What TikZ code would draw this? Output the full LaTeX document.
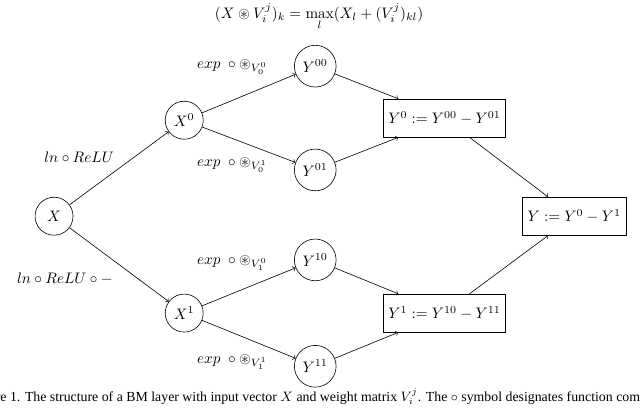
\documentclass[tikz,border=0pt]{standalone}
\usepackage{amsmath,amssymb}
\usepackage{fontspec}
\newfontfamily\capfont{Liberation Serif}
\usetikzlibrary{calc}
\tikzset{
  unit/.style={circle, draw, line width=0.4pt, minimum size=2.5em, inner sep=3.33pt},
  diffbox/.style={rectangle, draw, line width=0.4pt, minimum size=2.5em, inner sep=3.33pt},
  ar/.style={->, line width=0.4pt},
  lb/.style={inner sep=1pt},
}

\begin{document}
\begin{tikzpicture}

\useasboundingbox (0,0) rectangle (14.80,-9.437);

\node (F) at (7.38,-0.39) {$\displaystyle (X \circledast V_i^j)_k = \max_l (X_l + (V_i^j)_{kl})$};

\node[unit] (X)   at (1.25,-5.00) {$X$};
\node[unit] (X0)  at (4.26,-2.78) {$X^0$};
\node[unit] (X1)  at (4.26,-7.24) {$X^1$};

\node[unit] (Y00) at (7.29,-1.53) {$Y^{00}$};
\node[unit] (Y01) at (7.29,-3.93) {$Y^{01}$};
\node[unit] (Y10) at (7.29,-6.01) {$Y^{10}$};
\node[unit] (Y11) at (7.29,-8.47) {$Y^{11}$};

\node[diffbox] (Y0) at (10.28,-2.73) {$Y^0 := Y^{00} - Y^{01}$};
\node[diffbox] (Y1) at (10.28,-7.24) {$Y^1 := Y^{10} - Y^{11}$};
\node[diffbox] (Y)  at (13.28,-5.00) {$Y := Y^0 - Y^1$};

% edge labels
\node[lb] (L0)  at (1.83,-3.63) {$ln \circ ReLU$};
\node[lb] (L1)  at (1.50,-6.45) {$ln \circ ReLU \circ -$};
\node[lb] (E00) at (5.37,-1.55) {$exp \;\circ \circledast_{V_0^0}$};
\node[lb] (E01) at (5.37,-3.82) {$exp \;\circ \circledast_{V_0^1}$};
\node[lb] (E10) at (5.37,-6.08) {$exp \;\circ \circledast_{V_1^0}$};
\node[lb] (E11) at (5.37,-8.37) {$exp \;\circ \circledast_{V_1^1}$};

\draw[ar] (X) -- (X0);
\draw[ar] (X) -- (X1);
\draw[ar] (X0) -- (Y00);
\draw[ar] (X0) -- (Y01);
\draw[ar] (X1) -- (Y10);
\draw[ar] (X1) -- (Y11);

\draw[ar] (Y00) -- ([xshift=10pt]Y0.north west);
\draw[ar] (Y01) -- ([xshift=10pt]Y0.south west);
\draw[ar] (Y10) -- ([xshift=10pt]Y1.north west);
\draw[ar] (Y11) -- ([xshift=10pt]Y1.south west);

\draw[ar] ([xshift=-24pt]Y0.south east) -- ([xshift=17pt]Y.north west);
\draw[ar] ([xshift=-24pt]Y1.north east) -- ([xshift=17pt]Y.south west);

% caption, cut by the page edge
\node[anchor=base west, inner sep=0pt, font=\capfont\fontsize{9.1}{11}\selectfont] (cap) at (-0.69,-9.275)
  {Figure 1. The structure of a BM layer with input vector $X$ and weight matrix $V_i^j$. The $\circ$ symbol designates function composition.};

\end{tikzpicture}
\end{document}
